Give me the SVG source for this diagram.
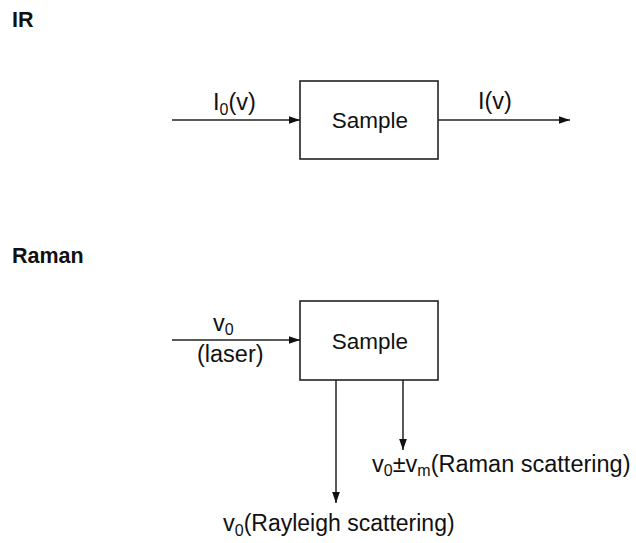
<svg xmlns="http://www.w3.org/2000/svg" width="636" height="543" viewBox="0 0 636 543">
<style>
text{font-family:"Liberation Sans",Arial,sans-serif;font-size:23.5px;fill:#111}
.h{font-weight:bold;font-size:21.5px}
.m{font-size:22.5px}
.box{fill:#fff;stroke:#222;stroke-width:1.6}
.c{stroke:#222;stroke-width:1.5;fill:none}
.s{font-size:16px}
</style>
<defs>
<marker id="a" viewBox="0 0 10 10" refX="10" refY="5" markerWidth="11" markerHeight="11" markerUnits="userSpaceOnUse" orient="auto"><path d="M0,1.5L10,5L0,8.5z" fill="#111"/></marker>
</defs>
<rect width="636" height="543" fill="#fff"/>
<text class="h" x="12" y="27">IR</text>
<text class="h" x="12" y="263">Raman</text>
<g id="ir-sample"><rect class="box" x="300" y="81" width="138" height="78"/><text class="m" x="370" y="128" text-anchor="middle">Sample</text></g>
<g id="raman-sample"><rect class="box" x="300" y="301" width="138" height="79"/><text class="m" x="370" y="349" text-anchor="middle">Sample</text></g>
<g id="connectors">
<line class="c" x1="172" y1="120" x2="300" y2="120" marker-end="url(#a)"/>
<line class="c" x1="438" y1="120" x2="570" y2="120" marker-end="url(#a)"/>
<line class="c" x1="172" y1="340" x2="300" y2="340" marker-end="url(#a)"/>
<line class="c" x1="336" y1="380" x2="336" y2="503" marker-end="url(#a)"/>
<line class="c" x1="403" y1="380" x2="403" y2="450" marker-end="url(#a)"/>
</g>
<g id="labels">
<text x="213" y="110">I<tspan class="s" dy="5">0</tspan><tspan dy="-5">(v)</tspan></text>
<text x="478" y="109">I(v)</text>
<text x="213" y="331">v<tspan class="s" dy="4">0</tspan></text>
<text x="197" y="362">(laser)</text>
<text x="372" y="472">v<tspan class="s" dy="4">0</tspan><tspan dy="-4">±v</tspan><tspan class="s" dy="4">m</tspan><tspan dy="-4">(Raman scattering)</tspan></text>
<text x="223" y="531">v<tspan class="s" dy="5">0</tspan><tspan dy="-5" style="font-size:23px">(Rayleigh scattering)</tspan></text>
</g>
</svg>
